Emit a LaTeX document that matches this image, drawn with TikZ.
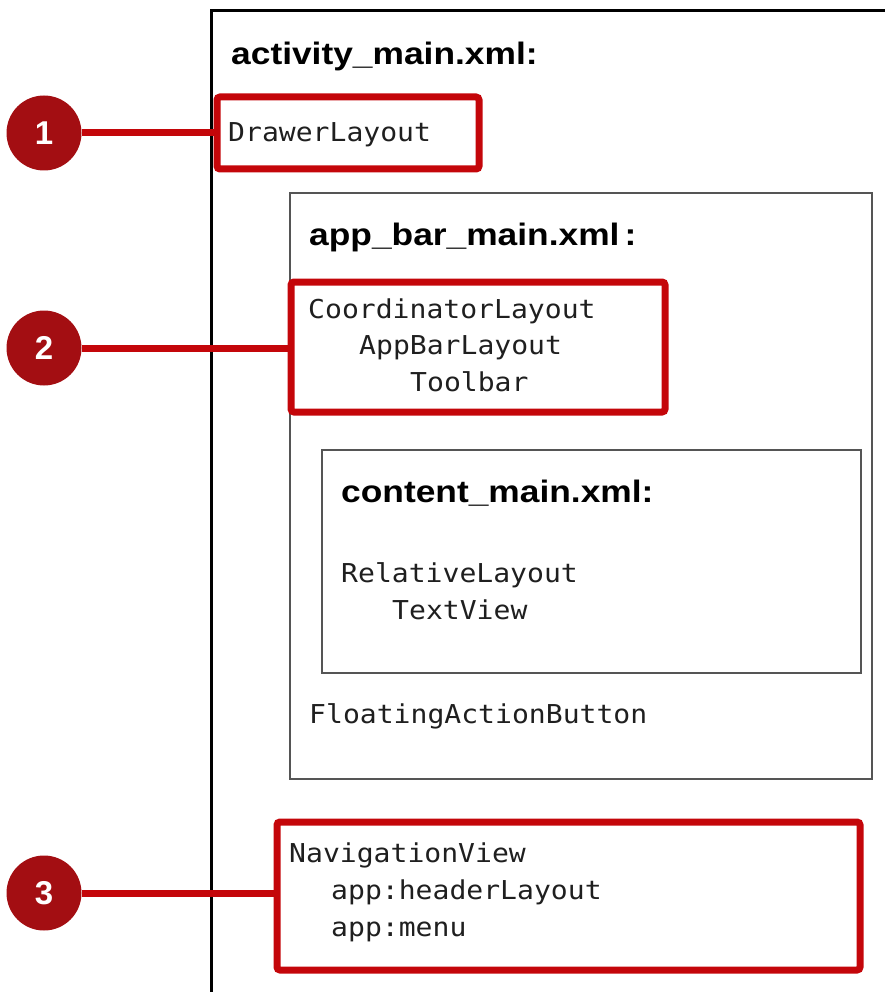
\documentclass[tikz,border=0pt]{standalone}
\usepackage{fontspec}
\newfontfamily\headf[FakeStretch=1.14]{Liberation Sans}
\newfontfamily\numf{Liberation Sans}
\newfontfamily\monof[FakeStretch=1.08]{DejaVu Sans Mono}
\definecolor{boxred}{RGB}{196,6,10}
\definecolor{numred}{RGB}{163,14,18}
\definecolor{frame}{RGB}{85,85,85}
\tikzset{
  redbox/.style={draw=boxred, line width=7pt, rounded corners=3pt, inner sep=0pt},
  graybox/.style={draw=frame, line width=2.6pt, inner sep=0pt},
  numdot/.style={circle, fill=numred, text=white, minimum size=75pt, inner sep=0pt,
    font=\numf\bfseries\fontsize{33}{33}\selectfont},
  monotext/.style={anchor=base west, inner sep=0pt, text=black!88,
    font=\monof\fontsize{26}{30}\selectfont},
  headtext/.style={anchor=base west, inner sep=0pt, text=black,
    font=\headf\bfseries\fontsize{31}{36}\selectfont},
  link/.style={draw=boxred, line width=7pt}
}
\begin{document}
\begin{tikzpicture}[x=1pt,y=-1pt]
\useasboundingbox (0,0) rectangle (885,992);
\clip (0,0) rectangle (885,992);
% outer activity frame (cut off at right and bottom)
\draw[black, line width=3pt] (211,1000) -- (211,11) -- (895,11);
% nested frames
\node[graybox, minimum width=582pt, minimum height=586pt] (appbar) at (581,486) {};
\node[graybox, minimum width=539pt, minimum height=223pt] (content) at (591.5,561.5) {};
% red highlight boxes
\node[redbox, minimum width=262pt, minimum height=72pt] (b1) at (348,133) {};
\node[redbox, minimum width=374pt, minimum height=130pt] (b2) at (478,347) {};
\node[redbox, minimum width=583pt, minimum height=148pt] (b3) at (568.5,896) {};
% numbered circles
\node[numdot] (c1) at (44,133) {1};
\node[numdot] (c2) at (44,348) {2};
\node[numdot] (c3) at (44,893) {3};
% connectors
\draw[link] (c1.east) -- (c1 -| b1.west);
\draw[link] (c2.east) -- (c2 -| b2.west);
\draw[link] (c3.east) -- (c3 -| b3.west);
% texts
\node[headtext] (h1) at (231,65) {activity\_main.xml:};
\node[monotext] (t1) at (228,142) {DrawerLayout};
\node[headtext] (h2) at (309,245) {app\_bar\_main.xml\,:};
\node[monotext] (t2) at (308,318) {CoordinatorLayout};
\node[monotext] (t3) at (359,354) {AppBarLayout};
\node[monotext] (t4) at (410,391) {Toolbar};
\node[headtext] (h3) at (341,502) {content\_main.xml:};
\node[monotext] (t5) at (341,582) {RelativeLayout};
\node[monotext] (t6) at (392,619) {TextView};
\node[monotext] (t7) at (309,723) {FloatingActionButton};
\node[monotext] (t8) at (289,862) {NavigationView};
\node[monotext] (t9) at (331,899) {app:headerLayout};
\node[monotext] (t10) at (331,936) {app:menu};
\end{tikzpicture}
\end{document}
